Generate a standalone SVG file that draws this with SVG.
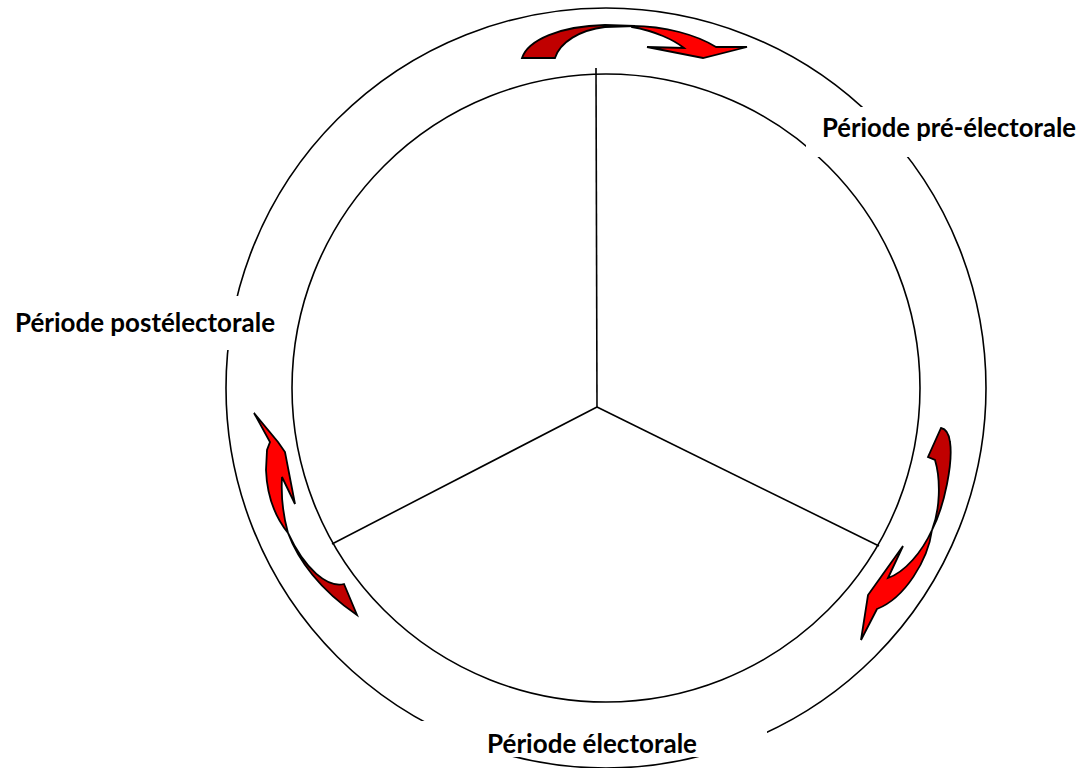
<svg xmlns="http://www.w3.org/2000/svg" width="1087" height="768" viewBox="0 0 1087 768">
<style>
.ring{fill:none;stroke:#000;stroke-width:1.6}
.spoke{fill:none;stroke:#000;stroke-width:1.6}
.dark{fill:#C00000;stroke:#000;stroke-width:1.8;stroke-linejoin:miter}
.bright{fill:#FF0000;stroke:#000;stroke-width:1.8;stroke-linejoin:miter}
.box{fill:#fff;stroke:none}
.lbl{font-family:Lato,"Liberation Sans",sans-serif;font-weight:700;font-size:26px;fill:#000}
</style>
<rect width="1087" height="768" fill="#fff"/>
<g id="rings">
<circle class="ring" cx="606" cy="388" r="380"/>
<circle class="ring" cx="606" cy="388" r="314"/>
</g>
<g id="connectors">
<line class="spoke" x1="596" y1="68" x2="597" y2="407"/>
<line class="spoke" x1="597" y1="407" x2="332" y2="544"/>
<line class="spoke" x1="597" y1="407" x2="879" y2="546"/>
</g>
<g id="arrow-top">
<path class="dark" d="M522,58 C528,40 560,26 605,25 L635,26 L605,27 C580,30 560,42 555,58 Z"/>
<path class="bright" d="M632,26 C665,26 697,35 716,47 L747,47 L703,58 L647,47 L684,48 C674,40 655,31 632,27 Z"/>
</g>
<g id="arrow-right">
<path class="dark" d="M932,530 C945,505 953,462 950,442 C949,434 946,429 941,428 L928,457 L935,460 C941,480 940,510 932,530 Z"/>
<path class="bright" d="M861,640 L868,595 L903,546 L888,578 C905,572 922,552 932,530 C928,560 905,598 877,609 Z"/>
</g>
<g id="arrow-left">
<path class="bright" d="M254,413 L278,442 L285,452 L295,504 L282,477 C281,495 283,515 288,533 C276,518 267,497 266,470 L267,450 L270,442 Z"/>
<path class="dark" d="M288,533 C298,560 320,590 357,615 L344,584 C328,588 305,570 288,533 Z"/>
</g>
<g id="label-pre">
<rect class="box" x="806" y="107" width="281" height="50"/>
<text class="lbl" x="822" y="137" textLength="254" lengthAdjust="spacingAndGlyphs">Période pré-électorale</text>
</g>
<g id="label-post">
<rect class="box" x="5" y="296" width="280" height="54"/>
<text class="lbl" x="15" y="332" textLength="260" lengthAdjust="spacingAndGlyphs">Période postélectorale</text>
</g>
<g id="label-electorale">
<rect class="box" x="420" y="721" width="347" height="36"/>
<text class="lbl" x="487" y="753" textLength="210" lengthAdjust="spacingAndGlyphs">Période électorale</text>
</g>
</svg>
